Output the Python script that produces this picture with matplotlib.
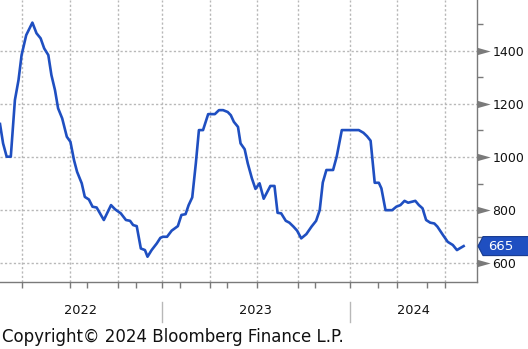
import matplotlib
matplotlib.use("Agg")
import matplotlib.pyplot as plt
from matplotlib.path import Path
from matplotlib.patches import Polygon
from matplotlib.transforms import ScaledTranslation
import pandas as pd

# Weekly index readings
dates = [
    "2022-02-20", "2022-02-26", "2022-03-05", "2022-03-13", "2022-03-21", "2022-03-28",
    "2022-04-03", "2022-04-12", "2022-04-24", "2022-05-02", "2022-05-10", "2022-05-17",
    "2022-05-25", "2022-05-31", "2022-06-07", "2022-06-13", "2022-06-21", "2022-06-30",
    "2022-07-07", "2022-07-14", "2022-07-20", "2022-07-29", "2022-08-04", "2022-08-12",
    "2022-08-19", "2022-08-27", "2022-09-10", "2022-09-24", "2022-10-02", "2022-10-13",
    "2022-10-23", "2022-10-31", "2022-11-06", "2022-11-13", "2022-11-21", "2022-11-29",
    "2022-12-04", "2022-12-12", "2022-12-22", "2022-12-29",
    "2023-01-03", "2023-01-11", "2023-01-20", "2023-02-01", "2023-02-08", "2023-02-16",
    "2023-02-22", "2023-03-01", "2023-03-08", "2023-03-14", "2023-03-22", "2023-04-01",
    "2023-04-14", "2023-04-22", "2023-04-30", "2023-05-09", "2023-05-15", "2023-05-21",
    "2023-05-29", "2023-06-03", "2023-06-11", "2023-06-17", "2023-06-25", "2023-07-02",
    "2023-07-10", "2023-07-18", "2023-07-31", "2023-08-08", "2023-08-14", "2023-08-21",
    "2023-08-30", "2023-09-06", "2023-09-14", "2023-09-21", "2023-09-29", "2023-10-09",
    "2023-10-19", "2023-10-28", "2023-11-04", "2023-11-10", "2023-11-17", "2023-11-30",
    "2023-12-07", "2023-12-17",
    "2024-01-19", "2024-01-28", "2024-02-04", "2024-02-11", "2024-02-19", "2024-02-27",
    "2024-03-03", "2024-03-11", "2024-03-24", "2024-04-01", "2024-04-09", "2024-04-17",
    "2024-04-24", "2024-05-08", "2024-05-15", "2024-05-22", "2024-05-29", "2024-06-06",
    "2024-06-14", "2024-06-20", "2024-07-01", "2024-07-10", "2024-07-20", "2024-07-28",
    "2024-08-02", "2024-08-10",
]
values = [
    1124, 1051, 1001, 1001, 1214, 1289,
    1383, 1458, 1505, 1465, 1446, 1408,
    1383, 1308, 1251, 1183, 1145, 1076,
    1057, 988, 944, 901, 850, 840,
    813, 810, 763, 819, 803, 788,
    763, 760, 744, 740, 656, 650,
    625, 650, 675, 696,
    700, 700, 723, 740, 782, 785,
    819, 848, 976, 1101, 1101, 1161,
    1161, 1176, 1176, 1169, 1157, 1132,
    1113, 1051, 1029, 976, 920, 880,
    901, 843, 891, 891, 790, 788,
    760, 753, 738, 723, 694, 710,
    738, 760, 800, 904, 951, 951,
    1001, 1101,
    1101, 1091, 1078, 1061, 903, 903,
    882, 800, 800, 813, 819, 835,
    828, 835, 819, 807, 763, 753,
    750, 738, 706, 681, 669, 650,
    656, 665,
]

y_major = [600, 800, 1000, 1200, 1400]
y_minor = [700, 900, 1100, 1300, 1500]
x_grid = ["2022-04-03", "2022-07-07", "2022-10-07", "2023-01-01", "2023-04-04",
          "2023-07-05", "2023-09-22", "2024-01-01", "2024-04-03", "2024-07-04"]
x_minor = ["2022-08-09", "2022-11-11", "2023-02-05", "2023-05-08", "2023-10-26",
           "2024-02-26", "2024-05-31"]
years = [2022, 2023, 2024]
x_start, x_end = "2022-02-20", "2024-09-05"
y_range = (530, 1590)
copyright_text = "Copyright\u00a9 2024 Bloomberg Finance L.P."

LINE = "#1f4fc1"
AXIS = "#7a7a7a"
GRID = "#b8b8b8"

plt.rcParams["font.family"] = ["DejaVu Sans"]

W, H = 528, 349
fig = plt.figure(figsize=(W / 100, H / 100), dpi=100)
ax = fig.add_axes([0, 67 / H, 477 / W, 282 / H])

x = pd.to_datetime(dates)
ax.plot(x, values, color=LINE, lw=1.9, solid_joinstyle="round", zorder=3)

x0, x1 = pd.Timestamp(x_start), pd.Timestamp(x_end)
ax.set_xlim(x0, x1)
ax.set_ylim(*y_range)

# spines
for side in ("top", "left"):
    ax.spines[side].set_visible(False)
for side in ("bottom", "right"):
    ax.spines[side].set_color(AXIS)
    ax.spines[side].set_linewidth(1.0)

# x axis: gridded ticks plus plain minor ticks, no labels
ax.set_xticks(pd.to_datetime(x_grid))
ax.set_xticks(pd.to_datetime(x_minor), minor=True)
ax.tick_params(axis="x", which="both", length=4.3, width=1.0, color=AXIS,
               labelbottom=False, direction="out")

# y axis on the right
ax.yaxis.tick_right()
ax.set_yticks(y_major)
ax.set_yticks(y_minor, minor=True)
ax.set_yticklabels([str(v) for v in y_major])
ax.tick_params(axis="y", which="major", length=0, pad=11, labelsize=9,
               labelcolor="#111111")
ax.tick_params(axis="y", which="minor", length=4.3, width=1.0, color=AXIS,
               direction="out")

ax.grid(True, which="major", color=GRID, lw=1.0, linestyle=(0, (1.6, 1.6)))
ax.set_axisbelow(True)

# triangular pointers at the labelled y ticks
tri = Path([(0, -0.28), (1, 0), (0, 0.28), (0, -0.28)],
           [Path.MOVETO, Path.LINETO, Path.LINETO, Path.CLOSEPOLY])
ax.plot([1.0] * len(y_major), y_major, linestyle="none", marker=tri,
        markersize=19, color=AXIS, markeredgewidth=0,
        transform=ax.get_yaxis_transform(), clip_on=False, zorder=4)

# year labels and separators under the axis
xt = ax.get_xaxis_transform()
for yr in years:
    a = max(pd.Timestamp(f"{yr}-01-01"), x0)
    b = min(pd.Timestamp(f"{yr + 1}-01-01"), x1)
    mid = a + (b - a) / 2
    ax.text(mid, -0.10, str(yr), transform=xt, ha="center", va="center",
            fontsize=9.3, color="#111111")
    if pd.Timestamp(f"{yr}-01-01") > x0:
        ax.plot([pd.Timestamp(f"{yr}-01-01")] * 2, [-0.070, -0.141], transform=xt,
                color=GRID, lw=1.0, clip_on=False)

# last value tag
last = values[-1]
anchor = ScaledTranslation(1.0, last, ax.get_yaxis_transform())
tag_tr = fig.dpi_scale_trans + anchor
hh = 0.095
tag = Polygon([(0.01, 0), (0.06, hh), (0.6, hh), (0.6, -hh), (0.06, -hh)],
              closed=True, transform=tag_tr, facecolor="#1f4fc1",
              edgecolor="#173a8f", lw=0.8, clip_on=False, zorder=5)
ax.add_patch(tag)
ax.annotate(str(last), xy=(1.0, last), xycoords=ax.get_yaxis_transform(),
            xytext=(8.0, 0), textcoords="offset points", va="center", ha="left",
            color="white", fontsize=9.5, zorder=6, annotation_clip=False)

fig.text(2 / W, 7 / H, copyright_text, ha="left", va="baseline",
         fontsize=12, color="#111111")

fig.savefig("out.png", dpi=100, facecolor="white")
